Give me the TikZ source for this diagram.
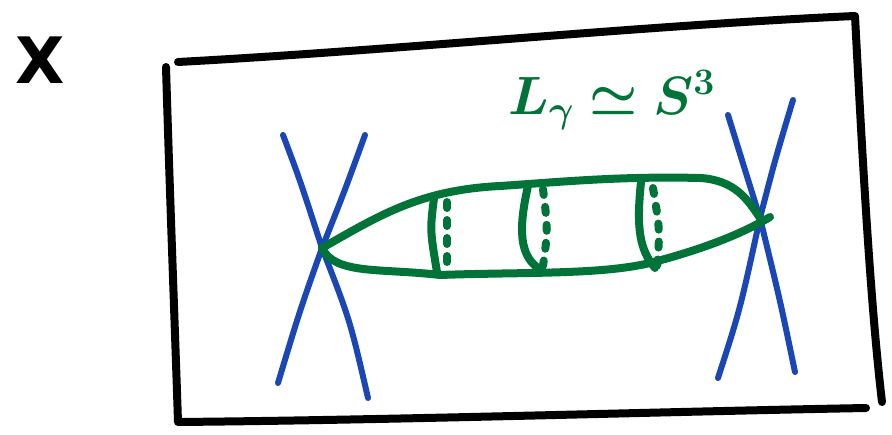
\documentclass[tikz,border=0pt]{standalone}
\usepackage{amsmath,bm}
\usepackage{fontspec}
\setsansfont{DejaVu Sans}
\usepackage{graphicx}
\usetikzlibrary{calc}
\definecolor{sgreen}{HTML}{007338}
\definecolor{sblue}{HTML}{1B47B5}
\tikzset{
  frame/.style={line width=8pt, line cap=round, line join=round, black},
  bline/.style={line width=6pt, line cap=round, sblue},
  gline/.style={line width=8pt, line cap=round, line join=round, sgreen},
  gdot/.style={line width=8pt, line cap=round, sgreen, dash pattern=on 6pt off 12pt},
}
\begin{document}
\begin{tikzpicture}[x=1pt,y=-1pt]
\useasboundingbox (0,0) rectangle (892,435);
% frame
\draw[frame] (178,62) .. controls (400,50) and (650,25) .. (855,16)
  .. controls (862,150) and (870,300) .. (882,402);
\draw[frame] (166,67) .. controls (170,200) and (175,330) .. (178,422)
  .. controls (400,420) and (650,412) .. (866,408);
% blue crossings
\coordinate (cl) at (322,248);
\coordinate (cr) at (760,218);
\draw[bline] (283,135) .. controls (300,180) .. (cl) .. controls (350,320) .. (368,398);
\draw[bline] (365,135) .. controls (345,190) .. (cl) .. controls (300,310) .. (278,383);
\draw[bline] (728,115) .. controls (745,170) .. (cr) .. controls (780,300) .. (795,372);
\draw[bline] (793,100) .. controls (775,160) .. (cr) .. controls (740,310) .. (718,378);
% green lens
\draw[gline] (cl) .. controls (380,215) and (420,190) .. (500,186)
  .. controls (560,182) and (620,176) .. (700,178)
  .. controls (735,180) and (748,200) .. (cr);
\draw[gline] (cl) .. controls (335,275) and (380,268) .. (440,275)
  .. controls (520,272) and (600,275) .. (650,263)
  .. controls (700,250) and (740,235) .. (770,217);
% meridian circles
\draw[gline] (434,198) .. controls (430,230) .. (437,272);
\draw[gdot] (447,202) -- (447,262);
\draw[gline] (528,186) .. controls (518,230) and (520,255) .. (538,268);
\draw[gdot] (543,189) .. controls (548,230) .. (543,266);
\draw[gline] (641,182) .. controls (636,230) and (640,250) .. (655,268);
\draw[gdot] (653,188) .. controls (660,230) .. (657,268);
% labels
\node[sgreen] (lab) at (612,100) {\scalebox{2.6}{\huge$\bm{L_\gamma \simeq S^3}$}};
\node[font=\sffamily\bfseries\fontsize{64}{64}\selectfont] (xlab) at (40,60) {X};
\end{tikzpicture}
\end{document}
